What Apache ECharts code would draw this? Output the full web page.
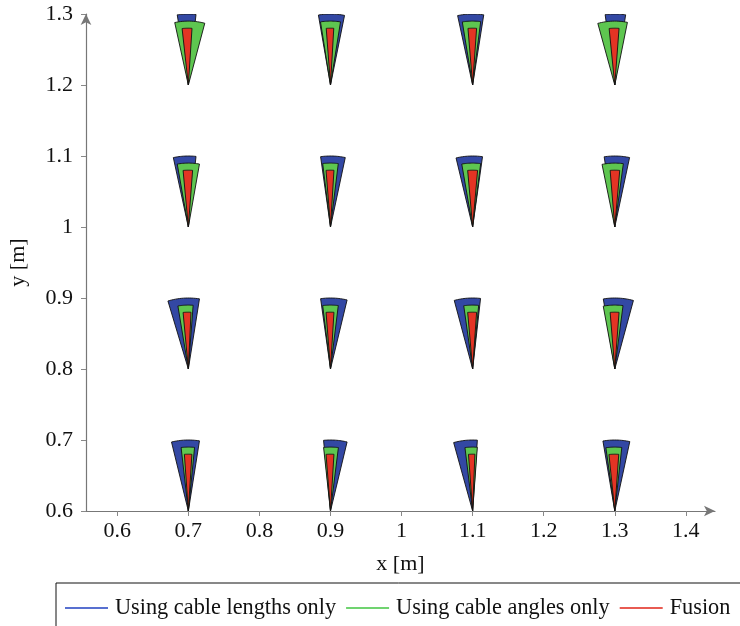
<!DOCTYPE html>
<html>
<head>
<meta charset="utf-8">
<script src="https://cdn.jsdelivr.net/npm/echarts@6/dist/echarts.min.js"></script>
<style>
  html, body { margin: 0; padding: 0; background: #fff; }
  #chart { width: 740px; height: 626px; }
</style>
</head>
<body>
<div id="chart"></div>
<script>
// apex positions (row by row, top to bottom)
const apexX = [0.7, 0.9, 1.1, 1.3, 0.7, 0.9, 1.1, 1.3, 0.7, 0.9, 1.1, 1.3, 0.7, 0.9, 1.1, 1.3];
const apexY = [1.2, 1.2, 1.2, 1.2, 1.0, 1.0, 1.0, 1.0, 0.8, 0.8, 0.8, 0.8, 0.6, 0.6, 0.6, 0.6];

// wedge edges in degrees (left edge, right edge), radius in metres
const lengthsLeft  = [99.0, 99.8, 102.2, 97.8, 102.2, 98.0, 103.5, 98.6, 106.7, 98.0, 105.0, 99.3, 103.7, 95.6, 105.5, 99.6];
const lengthsRight = [83.8, 78.6, 81.0, 81.2, 83.8, 78.0, 82.0, 78.0, 81.0, 76.5, 83.6, 74.8, 81.0, 76.5, 86.2, 77.8];
const lengthsRadius = 0.1;

const anglesLeft  = [102.3, 99.0, 99.3, 105.4, 100.0, 97.0, 99.8, 101.5, 99.4, 97.0, 98.0, 100.4, 96.5, 96.2, 96.9, 98.0];
const anglesRight = [75.1, 81.0, 82.8, 78.6, 80.0, 83.0, 82.8, 82.3, 85.7, 83.0, 84.6, 82.6, 84.4, 82.9, 85.8, 83.7];
const anglesRadius = 0.09;

const fusionLeft  = [96.3, 94.3, 94.7, 95.7, 95.3, 94.5, 95.0, 94.7, 95.3, 94.5, 95.0, 94.7, 94.0, 94.5, 94.2, 95.9];
const fusionRight = [86.3, 86.7, 86.0, 85.7, 85.7, 86.5, 85.0, 85.0, 87.3, 86.5, 86.0, 85.7, 86.4, 86.5, 87.7, 86.0];
const fusionRadius = 0.08;

const xTicks = [0.6, 0.7, 0.8, 0.9, 1.0, 1.1, 1.2, 1.3, 1.4];
const yTicks = [0.6, 0.7, 0.8, 0.9, 1.0, 1.1, 1.2, 1.3];

const FONT = 'Liberation Serif';

function wedgeData(left, right, r) {
  return apexX.map((x, i) => [x, apexY[i], left[i], right[i], r]);
}

function renderWedge(color) {
  return function (params, api) {
    const x = api.value(0), y = api.value(1);
    const a0 = api.value(2), a1 = api.value(3), r = api.value(4);
    const pts = [api.coord([x, y])];
    const steps = 16;
    for (let k = 0; k <= steps; k++) {
      const a = (a0 + (a1 - a0) * k / steps) * Math.PI / 180;
      pts.push(api.coord([x + r * Math.cos(a), y + r * Math.sin(a)]));
    }
    return {
      type: 'polygon',
      shape: { points: pts },
      style: { fill: color, stroke: '#111', lineWidth: 0.9 }
    };
  };
}

const chart = echarts.init(document.getElementById('chart'));

chart.setOption({
  animation: false,
  textStyle: { fontFamily: FONT },
  grid: { left: 86, right: 25, top: 14, bottom: 115, containLabel: false, outerBoundsMode: 'none' },
  legend: {
    left: 56, top: 583, width: 900,
    padding: [14, 30, 20, 9],
    borderColor: '#111', borderWidth: 1,
    itemWidth: 43, itemHeight: 1.5, itemGap: 10,
    textStyle: { fontFamily: FONT, fontSize: 22.3, color: '#111', padding: [0, 0, 0, 2] },
    data: [
      { name: 'Using cable lengths only', icon: 'rect', itemStyle: { color: '#2040c0' } },
      { name: 'Using cable angles only', icon: 'rect', itemStyle: { color: '#40c440' } },
      { name: 'Fusion', icon: 'rect', itemStyle: { color: '#e02418' } }
    ]
  },
  xAxis: {
    type: 'value', min: 0.556, max: 1.441,
    name: 'x [m]', nameLocation: 'middle', nameGap: 42,
    nameTextStyle: { fontFamily: FONT, fontSize: 22, color: '#111' },
    axisLine: { show: true, onZero: false, symbol: ['none', 'arrow'], symbolSize: [8, 11],
      lineStyle: { color: '#777', width: 1.2 } },
    axisTick: { show: true, length: 5, customValues: xTicks, lineStyle: { color: '#888' } },
    axisLabel: { customValues: xTicks, margin: 9, fontFamily: FONT, fontSize: 22, color: '#111' },
    splitLine: { show: false }
  },
  yAxis: {
    type: 'value', min: 0.6, max: 1.3,
    name: 'y [m]', nameLocation: 'middle', nameGap: 57, nameRotate: 90,
    nameTextStyle: { fontFamily: FONT, fontSize: 22, color: '#111' },
    axisLine: { show: true, onZero: false, symbol: ['none', 'arrow'], symbolSize: [8, 11],
      lineStyle: { color: '#777', width: 1.2 } },
    axisTick: { show: true, length: 5, customValues: yTicks, lineStyle: { color: '#888' } },
    axisLabel: { customValues: yTicks, margin: 13, fontFamily: FONT, fontSize: 22, color: '#111' },
    splitLine: { show: false }
  },
  series: [
    {
      name: 'Using cable lengths only', type: 'custom', clip: true,
      renderItem: renderWedge('#3348a4'),
      data: wedgeData(lengthsLeft, lengthsRight, lengthsRadius)
    },
    {
      name: 'Using cable angles only', type: 'custom', clip: true,
      renderItem: renderWedge('#5ec650'),
      data: wedgeData(anglesLeft, anglesRight, anglesRadius)
    },
    {
      name: 'Fusion', type: 'custom', clip: true,
      renderItem: renderWedge('#e33424'),
      data: wedgeData(fusionLeft, fusionRight, fusionRadius)
    }
  ]
});
</script>
</body>
</html>
